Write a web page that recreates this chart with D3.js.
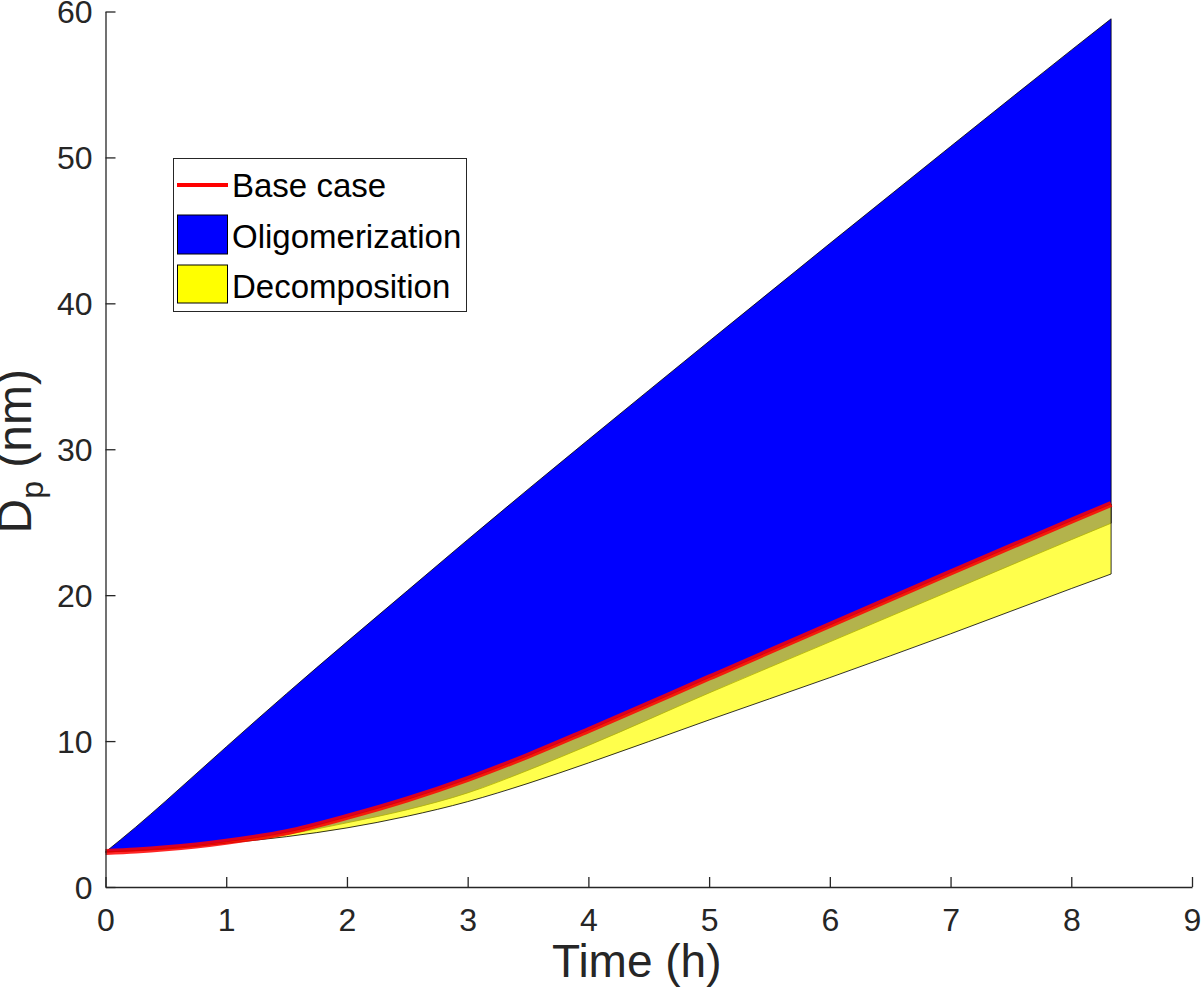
<!DOCTYPE html>
<html>
<head>
<meta charset="utf-8">
<script src="https://cdn.jsdelivr.net/npm/d3@7"></script>
<style>
  body { margin: 0; background: #fff; }
  text { font-family: "Liberation Sans", Arial, Helvetica, sans-serif; fill: #262626; }
</style>
</head>
<body>
<script>
// time axis (h)
var timeH = [0, 0.25, 0.5, 0.75, 1, 1.5, 2, 2.5, 3, 3.5, 4, 5, 6, 7, 8, 8.33];
// upper edge of the oligomerization band
var oligoUpper = [2.4, 4.1, 5.9, 7.75, 9.6, 13.25, 16.8, 20.3, 23.8, 27.25, 30.65, 37.4, 44.1, 50.75, 57.35, 59.5];
// lower edge of the oligomerization band
var oligoLower = [2.4, 2.5, 2.63, 2.8, 3.05, 3.6, 4.4, 5.3, 6.45, 8.0, 9.7, 13.3, 16.8, 20.3, 23.8, 24.93];
// base case
var baseCase = [2.4, 2.5, 2.65, 2.85, 3.1, 3.75, 4.8, 6.0, 7.4, 9.0, 10.75, 14.35, 17.95, 21.55, 25.1, 26.25];
// lower edge of the decomposition band (upper edge = base case)
var decompLower = [2.4, 2.48, 2.6, 2.78, 3.0, 3.45, 4.05, 4.85, 5.85, 7.1, 8.5, 11.45, 14.35, 17.35, 20.45, 21.45];

var xTicks = [0, 1, 2, 3, 4, 5, 6, 7, 8, 9];
var yTicks = [0, 10, 20, 30, 40, 50, 60];
var legendNames = ["Base case", "Oligomerization", "Decomposition"];

var W = 1201, H = 987;
var mLeft = 105.5, mRight = 1192, mTop = 11.5, mBottom = 887;

var svg = d3.select("body").append("svg")
  .attr("width", W).attr("height", H);

var x = d3.scaleLinear().domain([0, 9]).range([mLeft, mRight]);
var y = d3.scaleLinear().domain([0, 60]).range([mBottom, mTop]);

var idx = d3.range(timeH.length);

var blueArea = d3.area()
  .x(i => x(timeH[i]))
  .y0(i => y(oligoLower[i]))
  .y1(i => y(oligoUpper[i]))
  .curve(d3.curveMonotoneX);

var yellowArea = d3.area()
  .x(i => x(timeH[i]))
  .y0(i => y(decompLower[i]))
  .y1(i => y(baseCase[i]))
  .curve(d3.curveMonotoneX);

var baseLine = d3.line()
  .x(i => x(timeH[i]))
  .y(i => y(baseCase[i]))
  .curve(d3.curveMonotoneX);

var g = svg.append("g");

g.append("path").datum(idx)
  .attr("d", blueArea)
  .attr("fill", "#0000ff")
  .attr("stroke", "#000").attr("stroke-width", 0.8);

g.append("path").datum(idx)
  .attr("d", yellowArea)
  .attr("fill", "#ffff00").attr("fill-opacity", 0.7)
  .attr("stroke", "#000").attr("stroke-width", 0.8);

g.append("path").datum(idx)
  .attr("d", baseLine)
  .attr("fill", "none")
  .attr("stroke", "#ff0000").attr("stroke-width", 6)
  .attr("stroke-opacity", 0.85);

// axes
var xAxis = d3.axisBottom(x).tickValues(xTicks).tickSizeInner(-10).tickSizeOuter(0).tickPadding(0);
var yAxis = d3.axisLeft(y).tickValues(yTicks).tickSizeInner(-10).tickSizeOuter(0).tickPadding(0);

var gx = svg.append("g").attr("transform", "translate(0," + mBottom + ")").call(xAxis);
var gy = svg.append("g").attr("transform", "translate(" + mLeft + ",0)").call(yAxis);

[gx, gy].forEach(function(a) {
  a.select(".domain").attr("stroke", "#262626").attr("stroke-width", 1.3);
  a.selectAll(".tick line").attr("stroke", "#262626").attr("stroke-width", 1.3);
  a.selectAll(".tick text").attr("fill", "#262626")
    .style("font-size", "32px").style("font-family", "'Liberation Sans', Arial, sans-serif");
});
gx.selectAll(".tick text").attr("y", 44).attr("dy", 0);
gy.selectAll(".tick text").attr("x", -13).attr("dy", "0.35em");

// axis labels
svg.append("text")
  .attr("x", (mLeft + mRight) / 2 - 12).attr("y", 977)
  .attr("text-anchor", "middle")
  .style("font-size", "46px")
  .text("Time (h)");

var yl = svg.append("text")
  .attr("transform", "translate(31," + ((mTop + mBottom) / 2 + 2) + ") rotate(-90)")
  .attr("text-anchor", "middle")
  .style("font-size", "48px");
yl.append("tspan").text("D");
yl.append("tspan").attr("dy", 12).style("font-size", "32px").text("p");
yl.append("tspan").attr("dy", -12).text(" (nm)");

// legend
var lg = svg.append("g");
lg.append("rect")
  .attr("x", 173.5).attr("y", 158.5).attr("width", 293).attr("height", 153)
  .attr("fill", "#fff").attr("stroke", "#262626").attr("stroke-width", 1);

lg.append("line")
  .attr("x1", 177).attr("x2", 228).attr("y1", 185).attr("y2", 185)
  .attr("stroke", "#ff0000").attr("stroke-width", 4);
lg.append("rect")
  .attr("x", 177.5).attr("y", 215).attr("width", 50).attr("height", 39)
  .attr("fill", "#0000ff").attr("stroke", "#000").attr("stroke-width", 1);
lg.append("rect")
  .attr("x", 177.5).attr("y", 265).attr("width", 50).attr("height", 38)
  .attr("fill", "#ffff00").attr("stroke", "#000").attr("stroke-width", 1);

lg.selectAll("text.leg").data(legendNames).enter().append("text")
  .attr("class", "leg")
  .attr("x", 232)
  .attr("y", (d, i) => [196.5, 248, 298][i])
  .style("font-size", "33px")
  .style("fill", "#000")
  .text(d => d);
</script>
</body>
</html>
